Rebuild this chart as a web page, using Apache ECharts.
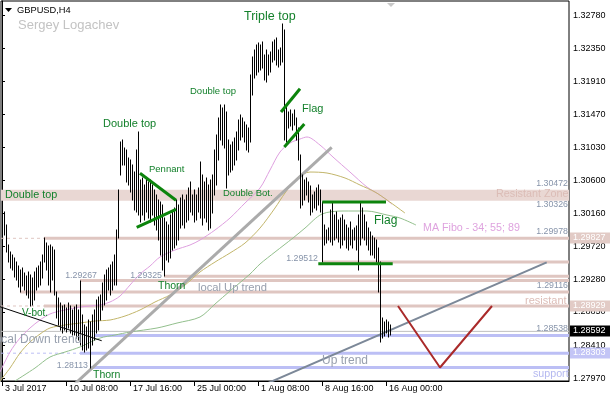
<!DOCTYPE html>
<html><head><meta charset="utf-8">
<script src="https://cdn.jsdelivr.net/npm/echarts@6/dist/echarts.min.js"></script>
<style>html,body{margin:0;padding:0;background:#fff}#c{width:610px;height:400px}</style>
</head><body><div id="c"></div>
<script>
// ---------- DATA ----------
const xLabels = ['3 Jul 2017','10 Jul 08:00','17 Jul 16:00','25 Jul 00:00','1 Aug 08:00','8 Aug 16:00','16 Aug 00:00'];
const xTickIdx = [0,32,64,96,128,160,192];
const yTicks = [1.27970,1.28410,1.28850,1.29280,1.29720,1.30160,1.30600,1.31030,1.31470,1.31910,1.32350,1.32780];

const highs = [
1.3023,1.3018,1.3000,1.2974,1.2965,1.2961,1.2957,1.2951,1.2946,1.2941,
1.2943,1.2937,1.2933,1.2938,1.2934,1.2930,1.2938,1.2943,1.2946,1.2951,
1.2961,1.2983,1.2976,1.2972,1.2974,1.2971,1.2967,1.2911,1.2903,1.2897,
1.2893,1.2894,1.2890,1.2897,1.2893,1.2888,1.2892,1.2894,1.2888,1.29267,
1.2881,1.2868,1.2865,1.2874,1.2872,1.2881,1.2888,1.2901,1.2905,1.2907,
1.2923,1.2934,1.2941,1.2943,1.2947,1.2951,1.2961,1.2994,1.3047,1.3110,
1.3113,1.3102,1.3100,1.3089,1.3087,1.3080,1.3071,1.3100,1.3124,1.3060,
1.3063,1.3053,1.3063,1.3057,1.3060,1.3053,1.3047,1.3040,1.3034,1.3031,
1.3027,1.3010,1.3004,1.3000,1.3014,1.3018,1.3023,1.3034,1.3027,1.3036,
1.3040,1.3034,1.3040,1.3049,1.3057,1.3040,1.3047,1.3040,1.3049,1.3084,
1.3067,1.3057,1.3063,1.3053,1.3060,1.3067,1.3100,1.3120,1.3142,1.3160,
1.3156,1.3160,1.3150,1.3113,1.3106,1.3110,1.3116,1.3124,1.3140,1.3146,
1.3142,1.3137,1.3133,1.3129,1.3199,1.3223,1.3232,1.3239,1.3242,1.3239,
1.3243,1.3226,1.3232,1.3226,1.3230,1.3243,1.3246,1.3248,1.3232,1.3235,
1.3267,1.3259,1.3160,1.3150,1.3153,1.3148,1.3153,1.3142,1.3129,1.3093,
1.3067,1.3060,1.3063,1.3057,1.3052,1.3040,1.3044,1.3049,1.3053,1.3047,
1.3031,1.3000,1.2994,1.2996,1.3020,1.3030,1.3014,1.3018,1.3007,1.3010,
1.3014,1.3007,1.3000,1.2996,1.3004,1.2994,1.2996,1.2999,1.3014,1.3031,
1.3023,1.3014,1.3004,1.2996,1.2991,1.2986,1.2983,1.2980,1.2970,1.2951,
1.2877,1.2872,1.2874,1.2872,1.2868];
const lows = [
1.2996,1.2987,1.2965,1.2951,1.2943,1.2941,1.2931,1.2927,1.2918,1.2911,
1.2919,1.2914,1.2908,1.2903,1.2893,1.2894,1.2901,1.2914,1.2918,1.2921,
1.2930,1.2951,1.2941,1.2921,1.2911,1.2927,1.2908,1.2877,1.2868,1.2861,
1.2857,1.2861,1.2858,1.2864,1.2857,1.2854,1.2854,1.2850,1.2848,1.2841,
1.2834,1.2832,1.2834,1.2837,1.28113,1.2841,1.2848,1.2857,1.2861,1.2874,
1.2888,1.2894,1.2901,1.2914,1.2908,1.2914,1.2921,1.2921,1.2983,1.3067,
1.3080,1.3080,1.3057,1.3053,1.3044,1.3034,1.3020,1.3018,1.3014,1.3004,
1.3014,1.3007,1.3018,1.3010,1.3004,1.3014,1.3000,1.2994,1.2980,1.2961,
1.2941,1.29325,1.2954,1.2951,1.2957,1.2967,1.2970,1.2974,1.2980,1.2996,
1.3000,1.2996,1.3004,1.3007,1.3018,1.3014,1.3004,1.3007,1.3018,1.3010,
1.3000,1.3010,1.3004,1.2994,1.2996,1.3016,1.3040,1.3053,1.3087,1.3113,
1.3106,1.3102,1.3049,1.3067,1.3071,1.3073,1.3080,1.3087,1.3100,1.3113,
1.3117,1.3110,1.3100,1.3097,1.3110,1.3173,1.3195,1.3199,1.3203,1.3206,
1.3209,1.3193,1.3190,1.3199,1.3203,1.3217,1.3219,1.3213,1.3210,1.3213,
1.3217,1.3113,1.3110,1.3129,1.3132,1.3126,1.3133,1.3113,1.3087,1.3023,
1.3027,1.3034,1.3040,1.3031,1.3014,1.3018,1.3023,1.3020,1.3027,1.3018,
1.29512,1.2974,1.2976,1.2980,1.2978,1.2974,1.2980,1.2983,1.2978,1.2970,
1.2974,1.2980,1.2970,1.2967,1.2974,1.2970,1.2980,1.2967,1.2941,1.2974,
1.2983,1.2980,1.2974,1.2967,1.2961,1.2961,1.2957,1.2951,1.2911,1.2845,
1.2850,1.2853,1.2857,1.2852,1.2854];
const lastPrice = 1.28592;

// MA Fibo 34 / 55 / 89
const ma34Idx = [-1,4,9,14,19,24,29,34,39,44,49,54,59,64,69,74,79,86.5,94,99,106.5,114,121.5,129,134,139,144,149,152.5,159,165.5,174,182.5,189,195];
const ma34Val = [1.28053,1.28318,1.28504,1.28637,1.28743,1.28823,1.28862,1.28889,1.28915,1.28929,1.28942,1.28982,1.29061,1.29207,1.29353,1.29459,1.29579,1.29672,1.29738,1.29804,1.29937,1.30096,1.30295,1.30494,1.30733,1.30972,1.31091,1.31144,1.31171,1.31064,1.30905,1.30706,1.30507,1.30401,1.30280];
const ma55Idx = [-1,4,9,14,19,24,31.5,39,46.5,54,61.5,69,76.5,84,91.5,99,106.5,114,121.5,129,136.5,141.5,147.5,154,162.5,171.5,179,186.5,192.5,201.5];
const ma55Val = [1.27934,1.28106,1.28305,1.28451,1.28557,1.28637,1.28677,1.28703,1.28730,1.28743,1.28796,1.28876,1.28982,1.29075,1.29207,1.29380,1.29512,1.29632,1.29764,1.29963,1.30229,1.30428,1.30627,1.30706,1.30693,1.30627,1.30534,1.30441,1.30335,1.30162];
const ma89Idx = [6.5,16.5,24,31.5,39,49,56.5,64,77.5,87.5,99,106.5,114,124,129,136.5,145.5,151.5,160,170.5,182.5,192.5,199,207];
const ma89Val = [1.27934,1.28106,1.28252,1.28318,1.28385,1.28504,1.28544,1.28584,1.28637,1.28703,1.28783,1.28955,1.29128,1.29353,1.29486,1.29645,1.29831,1.29963,1.30149,1.30189,1.30189,1.30136,1.30096,1.30003];

// horizontal levels
const zone = [1.30472, 1.30326];
const resLevels = [1.29827, 1.29512, 1.29325, 1.29267, 1.29116, 1.28929];
const resStart  = [21, 160, 81, 39, 9, 21];
const supLevels = [1.28538, 1.28303, 1.28113];
const supStart  = [46.5, 39, 44];

// drawn lines [barIndex, price]
const upTrend = [[125,1.27815],[272.35,1.29508]];
const localUpTrend = [[30,1.27738],[164.85,1.31034]];
const localDownTrend = [[-1,1.28919],[49.85,1.28468]];
const pennantTop = [[69,1.30689],[87,1.30331]];
const pennantBot = [[67.35,1.29973],[87,1.30211]];
const flag1Top = [[139.5,1.31502],[149,1.31811]];
const flag1Bot = [[141.15,1.31038],[151.15,1.31343]];
const flag2Top = [[160.15,1.3031],[192,1.3031]];
const flag2Bot = [[158.15,1.2949],[195.35,1.2949]];
const projection = [[198,1.28929],[219,1.28113],[245,1.28929]];

// ---------- CHART ----------
const FONT = '"Liberation Sans", Arial, sans-serif';
const chart = echarts.init(document.getElementById('c'), null, {renderer:'canvas'});
const X_MIN = -0.5, X_MAX = 283.5;

function seg(data, color, width, z, type) {
  return {type:'line', data:data, symbol:'none', silent:true, animation:false, z:z,
    lineStyle:{color:color, width:width, type:type||'solid'}};
}
const series = [];
// zone band
series.push({type:'line', data:[], z:1, markArea:{silent:true, itemStyle:{color:'#e9d7d3'},
  data:[[{coord:[X_MIN, zone[0]]},{coord:[X_MAX, zone[1]]}]]}});
// resistance levels
resLevels.forEach((p,k)=>{
  series.push(seg([[resStart[k],p],[X_MAX,p]], '#dfc6c1', 3, 2));
});
series.push(seg([[X_MIN,1.29827],[21,1.29827]], '#dfc6c1', 1, 2, [3,3]));
series.push(seg([[X_MIN,1.28929],[21,1.28929]], '#dfc6c1', 1, 2, [3,3]));
supLevels.forEach((p,k)=>{
  series.push(seg([[supStart[k],p],[X_MAX,p]], '#bcbff5', 3, 2));
});
series.push(seg([[X_MIN,1.28303],[39,1.28303]], '#bcbff5', 1, 2, [3,3]));
// last price line
series.push(seg([[X_MIN,lastPrice],[X_MAX,lastPrice]], '#c0c0c0', 1, 2));
// MAs
const zipPts = (a,b)=>a.map((v,i)=>[v,b[i]]);
series.push(Object.assign(seg(zipPts(ma34Idx,ma34Val), '#de9fdf', 1, 3), {smooth:0.3}));
series.push(Object.assign(seg(zipPts(ma55Idx,ma55Val), '#c2b56a', 1, 3), {smooth:0.3}));
series.push(Object.assign(seg(zipPts(ma89Idx,ma89Val), '#92bf8c', 1, 3), {smooth:0.3}));
// trend lines
series.push(seg(localUpTrend, '#ababab', 3, 4));
series.push(seg(upTrend, '#7c8898', 2, 4));
series.push(seg(localDownTrend, '#000000', 1, 4));
// bars (high-low)
series.push({type:'custom', z:5, silent:true, animation:false, clip:true,
  data: highs.map((h,i)=>[i, lows[i], h]),
  encode:{x:0, y:[1,2]},
  renderItem:(params, api)=>{
    const i = api.value(0);
    const lo = api.coord([i, api.value(1)]);
    const hi = api.coord([i, api.value(2)]);
    const x = Math.floor(lo[0]) + 0.5;
    return {type:'line', shape:{x1:x, y1:Math.round(lo[1])+0.5, x2:x, y2:Math.round(hi[1])-0.5},
      style:{stroke:'#000', lineWidth:1}};
  }});
// pattern lines
[pennantTop,pennantBot,flag1Top,flag1Bot,flag2Top,flag2Bot].forEach(d=>series.push(seg(d,'#0c840c',3,6)));
series.push(seg(projection, '#aa2a2a', 2, 6));

chart.setOption({
  animation:false,
  backgroundColor:'#fff',
  grid:{left:1, top:1, right:41, bottom:19, show:true, borderColor:'#000', borderWidth:1},
  xAxis:{type:'value', min:X_MIN, max:X_MAX,
    axisLine:{show:true, lineStyle:{color:'#000'}},
    axisTick:{show:true, customValues:xTickIdx, length:5, lineStyle:{color:'#000'}},
    axisLabel:{customValues:xTickIdx, formatter:v=>xLabels[xTickIdx.indexOf(v)]||'',
      align:'left', padding:[0,0,0,3], margin:3, color:'#000', fontSize:9, fontFamily:FONT},
    splitLine:{show:false}},
  yAxis:{type:'value', position:'right', min:1.27934, max:1.32975,
    axisLine:{show:true, lineStyle:{color:'#000'}},
    axisTick:{show:true, customValues:yTicks, length:3, lineStyle:{color:'#000'}},
    axisLabel:{customValues:yTicks, formatter:v=>v.toFixed(5), margin:4, color:'#000', fontSize:9, fontFamily:FONT},
    splitLine:{show:false}},
  series:series
});

// ---------- annotations ----------
const GREEN = {fill:'#13802b', shadowColor:'rgba(225,195,60,0.85)', shadowOffsetX:-1, shadowOffsetY:0, shadowBlur:0};
const texts = [
  ['Triple top',244,17,12.5,GREEN],
  ['Double top',103,124,11,GREEN],
  ['Double top',190,91,9.5,GREEN],
  ['Pennant',149,169,9.5,GREEN],
  ['Flag',302,108.5,11,GREEN],
  ['Double top',5,195,10.8,GREEN],
  ['Double Bot.',223,193.5,9.5,GREEN],
  ['Flag',374,221,12,GREEN],
  ['Thorn',158,286,10.5,GREEN],
  ['V-bot.',22,313.5,10,GREEN],
  ['Thorn',93,375,10.5,GREEN],
  ['Resistant Zone',496,194,10.8,{fill:'#dbbcb6'}],
  ['MA Fibo - 34; 55; 89',423,228.5,10.7,{fill:'#dfa3df'}],
  ['local Up trend',198,287.5,11.2,{fill:'#98a0ae'}],
  ['local Down trend',-8,340,12,{fill:'#98a0ae'}],
  ['Up trend',322,360.5,12,{fill:'#98a0ae'}],
  ['resistant',525,300.5,11,{fill:'#dcbcb6'}],
  ['support',533,374,10.7,{fill:'#b4b8f0'}],
  ['Sergey Logachev',18,25,13,{fill:'#c3c3c3'}],
  ['GBPUSD,H4',17,10,9.3,{fill:'#000'}]
];
const priceTexts = [
  ['1.30472',568,184],['1.30326',568,205],['1.29978',568,232],['1.29116',568,286],['1.28538',568,329],
  ['1.29512',318,258.5],['1.29267',97,275.5],['1.29325',162,275.5],['1.28113',88,365.5]
];
const g = [];
texts.forEach(t=>{
  g.push({type:'text', z:100, silent:true, style:Object.assign({text:t[0], x:t[1], y:t[2], font:t[3]+'px '+FONT,
    align:'left', verticalAlign:'middle'}, t[4])});
});
priceTexts.forEach(t=>{
  g.push({type:'text', z:100, silent:true, style:{text:t[0], x:t[1], y:t[2], font:'8.8px '+FONT, fill:'#8794aa',
    align:'right', verticalAlign:'middle'}});
});
// axis price boxes
const boxes = [[resLevels[0],'#e2cbc6'],[resLevels[5],'#e2cbc6'],[lastPrice,'#000'],[supLevels[1],'#c3c5f6']];
boxes.forEach(b=>{
  const y = chart.convertToPixel({yAxisIndex:0}, b[0]);
  g.push({type:'rect', z:110, silent:true, shape:{x:570, y:Math.round(y)-5.5, width:40, height:11}, style:{fill:b[1]}});
  g.push({type:'text', z:111, silent:true, style:{text:b[0].toFixed(5), x:573, y:Math.round(y), font:'9px '+FONT, fill:'#fff', align:'left', verticalAlign:'middle'}});
});
g.push({type:'polygon', z:100, silent:true, shape:{points:[[5,8],[12,8],[8.5,12]]}, style:{fill:'#000'}});
g.push({type:'polygon', z:100, silent:true, shape:{points:[[387,3],[395,3],[391,7]]}, style:{fill:'#c8c8c8'}});
chart.setOption({graphic:g});
</script></body></html>
